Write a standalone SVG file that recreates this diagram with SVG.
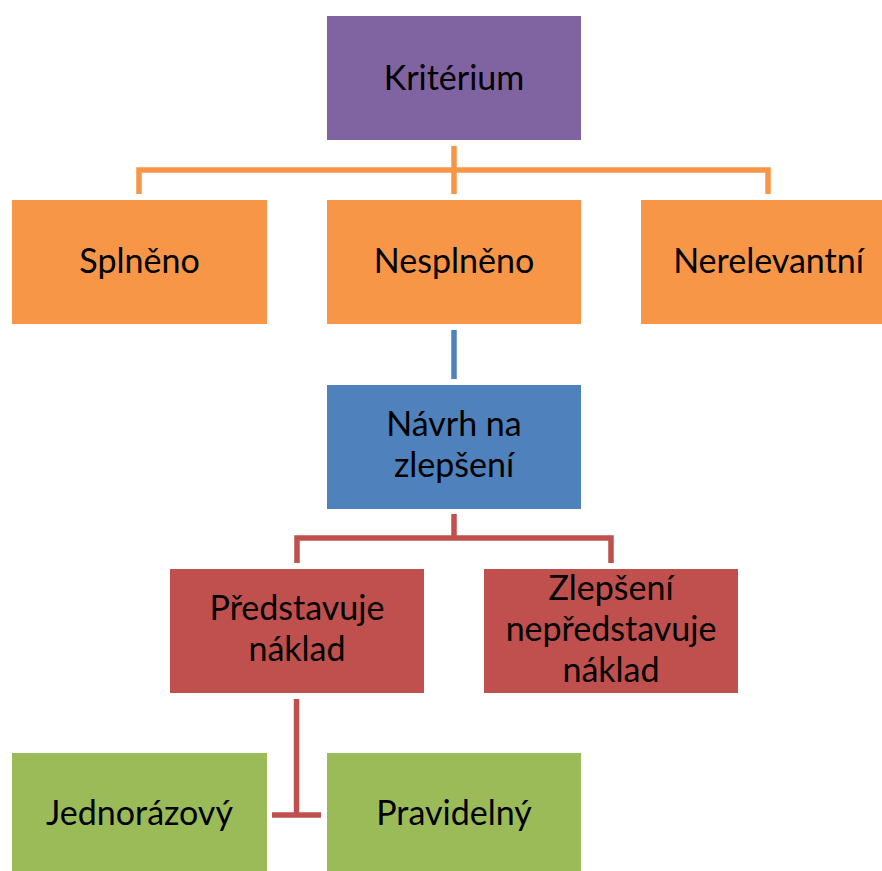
<svg xmlns="http://www.w3.org/2000/svg" width="882" height="871" viewBox="0 0 882 871">
<style>
text{font-family:Lato,"Liberation Sans",sans-serif;font-size:34px;fill:#000;text-anchor:middle}
.c{fill:none;stroke-width:5.5;stroke-linejoin:miter}
</style>
<rect width="882" height="871" fill="#fff"/>
<g id="connectors">
<path class="c" stroke="#F79646" d="M454 146V194M139 194V170H768V194"/>
<path class="c" stroke="#4F81BD" d="M454 330V379"/>
<path class="c" stroke="#C0504D" d="M454 514V538M297 563V538H611V563"/>
<path class="c" stroke="#C0504D" d="M296.5 699V815M272 815H321"/>
</g>
<g id="kriterium"><rect x="327" y="16" width="254" height="124" fill="#8064A2"/><text x="454" y="90">Kritérium</text></g>
<g id="splneno"><rect x="12" y="200" width="255" height="124" fill="#F79646"/><text x="139.5" y="273">Splněno</text></g>
<g id="nesplneno"><rect x="327" y="200" width="254" height="124" fill="#F79646"/><text x="454" y="273">Nesplněno</text></g>
<g id="nerelevantni"><rect x="641" y="200" width="255" height="124" fill="#F79646"/><text x="768.5" y="273">Nerelevantní</text></g>
<g id="navrh"><rect x="327" y="385" width="254" height="124" fill="#4F81BD"/><text x="454" y="436">Návrh na</text><text x="454" y="477">zlepšení</text></g>
<g id="predstavuje"><rect x="170" y="569" width="254" height="124" fill="#C0504D"/><text x="297" y="620">Představuje</text><text x="297" y="661">náklad</text></g>
<g id="nepredstavuje"><rect x="484" y="569" width="254" height="124" fill="#C0504D"/><text x="611" y="600">Zlepšení</text><text x="611" y="641">nepředstavuje</text><text x="611" y="682">náklad</text></g>
<g id="jednorazovy"><rect x="12" y="753" width="255" height="118" fill="#9BBB59"/><text x="139.5" y="825">Jednorázový</text></g>
<g id="pravidelny"><rect x="327" y="753" width="254" height="118" fill="#9BBB59"/><text x="454" y="825">Pravidelný</text></g>
</svg>
